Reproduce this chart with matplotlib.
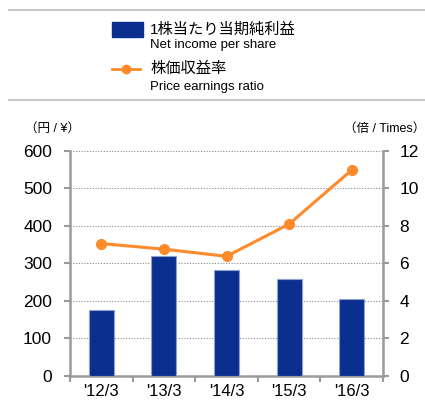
import numpy as np
import matplotlib.pyplot as plt
from matplotlib.lines import Line2D

plt.rcParams['font.family'] = ['Liberation Sans', 'Noto Sans CJK JP', 'DejaVu Sans']

# Données
annees = ["'12/3", "'13/3", "'14/3", "'15/3", "'16/3"]
benefice = [174, 320, 281, 257, 204]      # 1株当たり当期純利益 (円)
per = [7.05, 6.75, 6.37, 8.09, 10.97]     # 株価収益率 (倍)

bleu = '#0b2f8e'
orange = '#ff8a2b'
gris = '#9a9a9a'

fig = plt.figure(figsize=(4.25, 4.01), dpi=100)
ax = fig.add_axes([0.165, 0.063, 0.736, 0.561])
ax2 = ax.twinx()

x = np.arange(len(annees))
ax.bar(x, benefice, width=0.4, color=bleu, edgecolor='#8fa0cc', linewidth=0.8, zorder=3)
ax2.plot(x, per, color=orange, lw=2.2, marker='o', ms=7, zorder=4)

ax.set_xlim(-0.5, 4.5)
ax.set_ylim(0, 600)
ax2.set_ylim(0, 12)
ax.set_yticks(range(0, 601, 100))
ax2.set_yticks(range(0, 13, 2))

# grille pointillée
for v in range(100, 601, 100):
    ax.axhline(v, color='#888888', lw=0.8, ls=(0, (1, 1.5)), zorder=1)

# axes et graduations
for a in (ax, ax2):
    for s in a.spines.values():
        s.set_visible(False)
ax.spines['left'].set_visible(True)
ax.spines['bottom'].set_visible(True)
ax2.spines['right'].set_visible(True)
for s in (ax.spines['left'], ax.spines['bottom'], ax2.spines['right']):
    s.set_color(gris)
    s.set_linewidth(1.8)

ax.set_xticks(np.arange(-0.5, 4.6, 1))
ax.set_xticklabels([])
ax.set_xticks(x, minor=True)
ax.set_xticklabels(annees, minor=True, fontsize=12)
ax.tick_params(axis='x', which='major', direction='out', length=4, width=1.5, color=gris)
ax.tick_params(axis='x', which='minor', length=0, pad=6)
ax.tick_params(axis='y', direction='out', length=4, width=1.5, color=gris, labelsize=12.5, pad=9)
ax2.tick_params(axis='y', direction='out', length=4, width=1.5, color=gris, labelsize=12.5, pad=8)
ax2.set_zorder(ax.get_zorder() + 1)
ax2.patch.set_visible(False)

# unités
fig.text(0.058, 0.68, '（円 / ¥）', fontsize=9, va='center', ha='left')
fig.text(1.0, 0.68, '（倍 / Times）', fontsize=9, va='center', ha='right')

# légende
fig.add_artist(Line2D([0.02, 1.0], [0.975, 0.975], color='#c8c8c8', lw=1.5))
fig.add_artist(Line2D([0.02, 1.0], [0.751, 0.751], color='#c8c8c8', lw=1.5))
fig.patches.append(plt.Rectangle((0.263, 0.908), 0.073, 0.037, color=bleu,
                                 transform=fig.transFigure, figure=fig))
fig.text(0.353, 0.927, '1株当たり当期純利益', fontsize=11, va='center')
fig.text(0.353, 0.887, 'Net income per share', fontsize=9.5, va='center')
fig.add_artist(Line2D([0.263, 0.33], [0.828, 0.828], color=orange, lw=2,
                      transform=fig.transFigure))
fig.add_artist(Line2D([0.297], [0.828], color=orange, marker='o', ms=6,
                      transform=fig.transFigure))
fig.text(0.353, 0.827, '株価収益率', fontsize=11, va='center')
fig.text(0.353, 0.783, 'Price earnings ratio', fontsize=9.5, va='center')

plt.savefig('out.png', dpi=100)
